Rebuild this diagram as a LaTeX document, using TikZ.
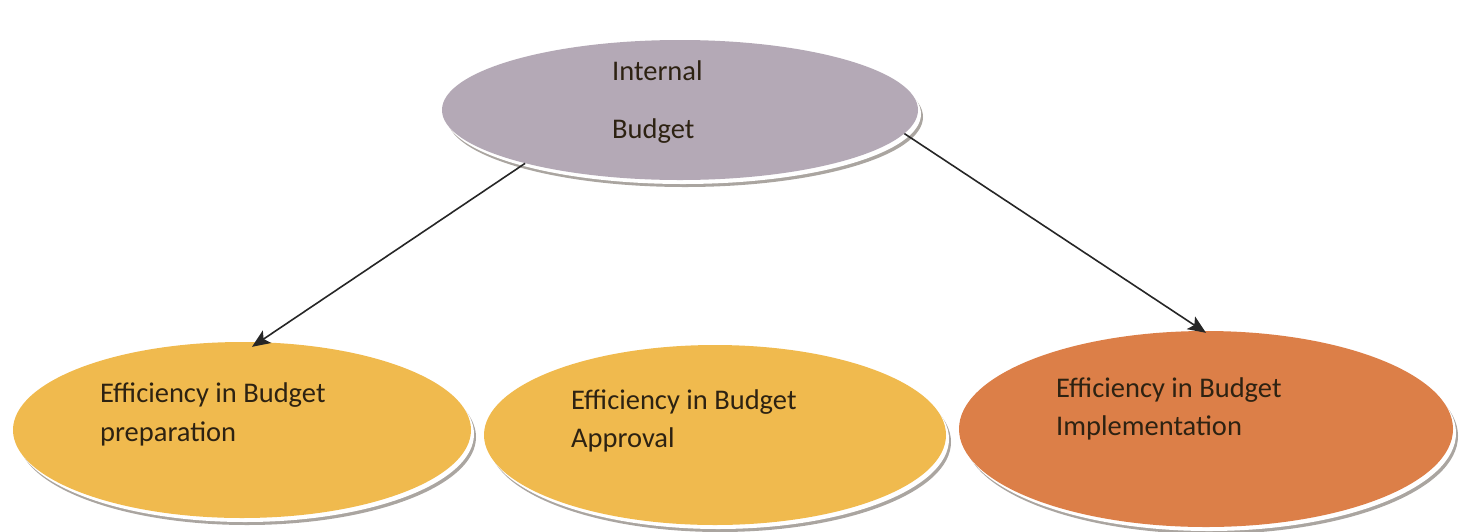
\documentclass[tikz,border=0pt]{standalone}
\usepackage{fontspec}
\setmainfont{Carlito}
\usetikzlibrary{shapes.geometric,arrows.meta}
\definecolor{topfill}{RGB}{180,169,182}
\definecolor{yelfill}{RGB}{240,186,78}
\definecolor{orgfill}{RGB}{220,127,72}
\definecolor{txt}{RGB}{45,34,18}
\definecolor{rim}{RGB}{170,165,160}
\tikzset{
  bubble/.style={ellipse, inner sep=0pt, draw=none},
  rimshade/.style={ellipse, inner sep=0pt, draw=none, fill=rim},
  rimwhite/.style={ellipse, inner sep=0pt, draw=none, fill=white},
  lbl/.style={anchor=base west, inner sep=0pt, text=txt, font=\fontsize{28.5}{40}\selectfont},
  conn/.style={draw=black!85, line width=1.6pt, -{Stealth[length=18pt,width=15pt,inset=4pt]}}
}
\begin{document}
\begin{tikzpicture}[x=1pt,y=-1pt]
\useasboundingbox[fill=white] (0,0) rectangle (1461,531);
% top
\node[rimshade, minimum width=476, minimum height=140] (tops) at (685,117) {};
\node[rimwhite, minimum width=476, minimum height=140] (topw) at (683,114) {};
\node[bubble, fill=topfill, minimum width=476, minimum height=140] (top) at (680,110) {};
\node[lbl] (t1) at (612,80) {Internal};
\node[lbl] (t2) at (612,138) {Budget};
% left
\node[rimshade, minimum width=458, minimum height=176] (ls) at (247,437) {};
\node[rimwhite, minimum width=458, minimum height=176] (lw) at (245,434) {};
\node[bubble, fill=yelfill, minimum width=458, minimum height=176] (left) at (242,430) {};
\node[lbl] (l1) at (100,402) {Efficiency in Budget};
\node[lbl] (l2) at (100,441) {preparation};
% middle
\node[rimshade, minimum width=462, minimum height=180] (ms) at (720,442) {};
\node[rimwhite, minimum width=462, minimum height=180] (mw) at (718,439) {};
\node[bubble, fill=yelfill, minimum width=462, minimum height=180] (mid) at (715,435) {};
\node[lbl] (m1) at (571,409) {Efficiency in Budget};
\node[lbl] (m2) at (571,447) {Approval};
% right
\node[rimshade, minimum width=494, minimum height=196] (rs) at (1211,436) {};
\node[rimwhite, minimum width=494, minimum height=196] (rw) at (1209,433) {};
\node[bubble, fill=orgfill, minimum width=494, minimum height=196] (right) at (1206,429) {};
\node[lbl] (r1) at (1056,397) {Efficiency in Budget};
\node[lbl] (r2) at (1056,435) {Implementation};
% connectors
\draw[conn] (top.199) -- ([xshift=10pt,yshift=-5pt]left.north);
\draw[conn] (top.-6) -- ([yshift=-2pt]right.north);
\end{tikzpicture}
\end{document}
